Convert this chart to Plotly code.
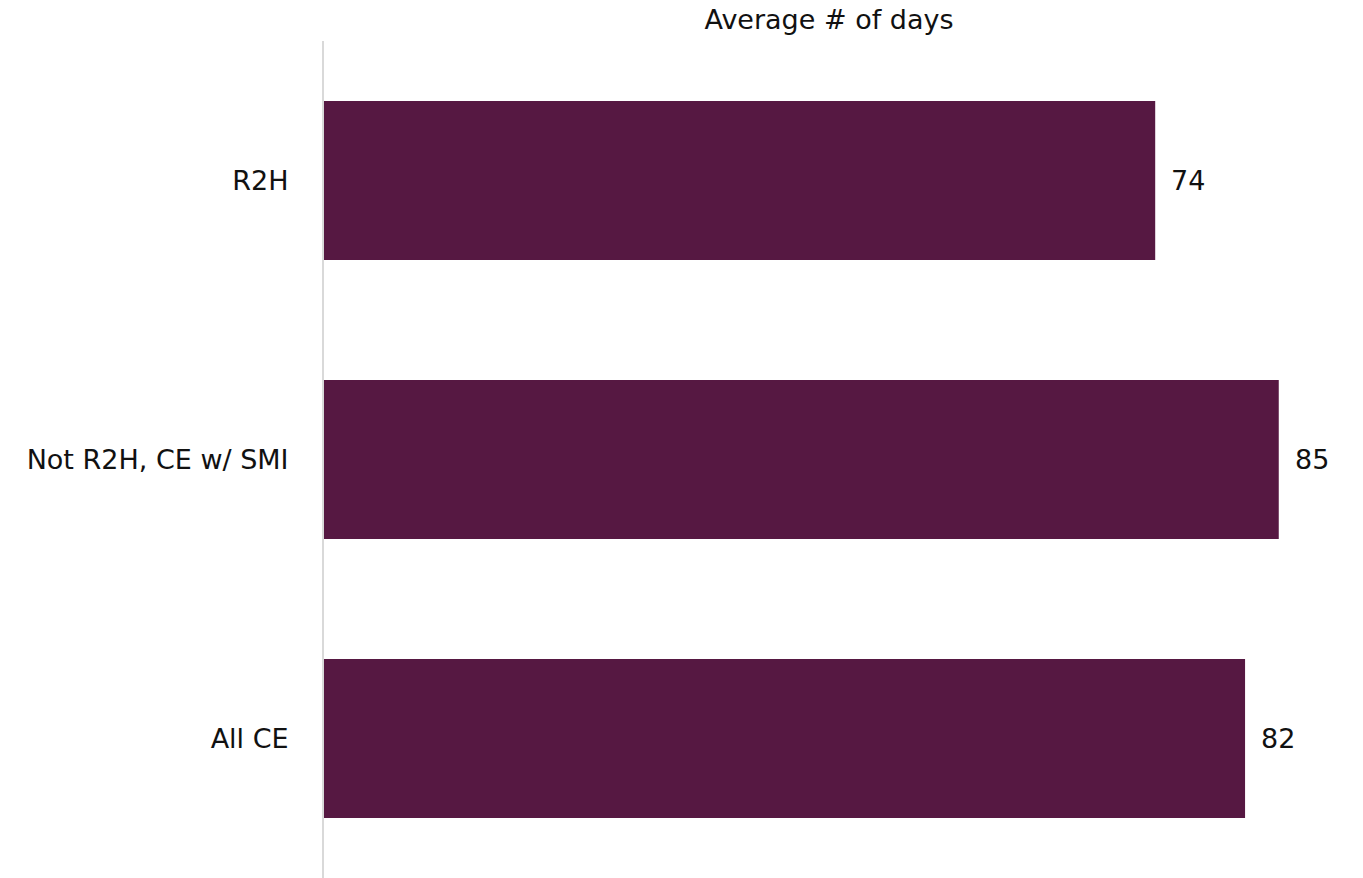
import plotly.graph_objects as go

categories = ["R2H", "Not R2H, CE w/ SMI", "All CE"]
avg_days = [74, 85, 82]

BAR_COLOR = "#561842"
FONT = "DejaVu Sans"
SIZE = 27

fig = go.Figure()
fig.add_trace(go.Bar(
    x=avg_days,
    y=categories,
    orientation="h",
    marker=dict(color=BAR_COLOR, line=dict(width=0)),
    width=0.57,
    hoverinfo="skip",
))

# value labels just past the end of each bar
for cat, val in zip(categories, avg_days):
    fig.add_annotation(
        x=val, y=cat, text=str(val), showarrow=False,
        xanchor="left", xshift=14,
        font=dict(family=FONT, size=SIZE, color="#111111"),
    )

fig.update_layout(
    width=1363, height=878,
    margin=dict(l=324, r=0, t=41, b=0),
    paper_bgcolor="white", plot_bgcolor="white",
    showlegend=False,
    title=dict(
        text="Average # of days",
        x=829 / 1363, xref="container", xanchor="center",
        y=1 - 20 / 878, yref="container", yanchor="middle",
        font=dict(family=FONT, size=SIZE, color="#111111"),
    ),
    xaxis=dict(
        range=[0, 92.5], visible=False, fixedrange=True,
    ),
    yaxis=dict(
        autorange="reversed",
        showline=True, linecolor="#d9d9d9", linewidth=2,
        showgrid=False, zeroline=False, ticks="",
        ticklabelstandoff=28,
        tickfont=dict(family=FONT, size=SIZE, color="#111111"),
    ),
)

fig.write_html("out.html")
